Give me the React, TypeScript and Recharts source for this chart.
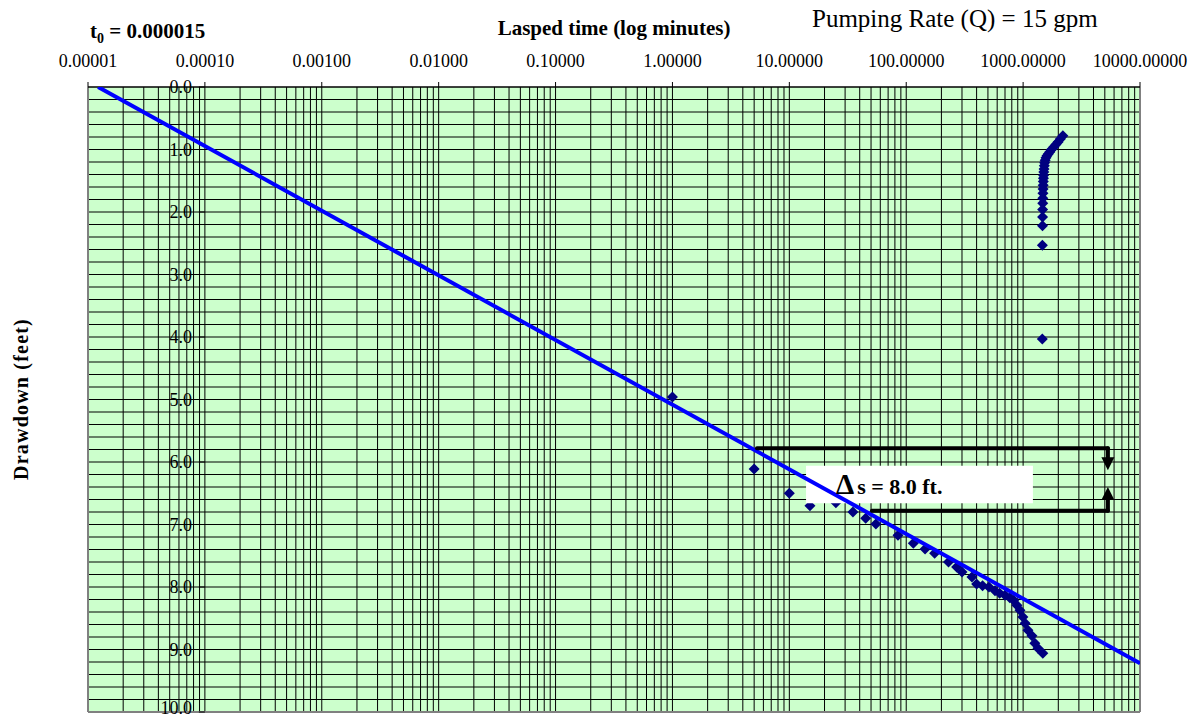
import React from 'react';
import {
  ComposedChart,
  XAxis,
  YAxis,
  Scatter,
  Line,
  ReferenceLine,
  ReferenceArea,
  ReferenceDot,
  CartesianGrid,
} from 'recharts';

// ---------- data ----------
const xTicks = [0.00001, 0.0001, 0.001, 0.01, 0.1, 1, 10, 100, 1000, 10000];
const yTicks = [0, 1, 2, 3, 4, 5, 6, 7, 8, 9, 10];
const yTickLabels = ['0.0', '1.0', '2.0', '3.0', '4.0', '5.0', '6.0', '7.0', '8.0', '9.0', '10.0'];

const drawdownTimes = [1, 5, 10, 15, 25, 35, 45, 55, 85, 115, 145, 175, 230, 270, 300, 365, 400, 450, 510, 575, 630, 700, 770, 830, 885, 940, 995, 1040, 1100, 1190, 1260, 1340, 1475];
const drawdownValues = [4.96, 6.11, 6.5, 6.7, 6.65, 6.8, 6.9, 6.99, 7.17, 7.3, 7.39, 7.46, 7.6, 7.68, 7.76, 7.84, 7.95, 7.98, 8.0, 8.06, 8.1, 8.13, 8.17, 8.21, 8.29, 8.37, 8.48, 8.58, 8.69, 8.78, 8.9, 8.98, 9.06];

const recoveryTimes = [1460, 1462, 1465, 1467, 1469, 1472, 1475, 1478, 1481, 1485, 1489, 1493, 1498, 1503, 1510, 1518, 1528, 1545, 1570, 1600, 1640, 1690, 1750, 1830, 1910, 1990, 2080, 2190];
const recoveryValues = [4.03, 2.53, 2.22, 2.08, 1.96, 1.86, 1.78, 1.7, 1.63, 1.57, 1.51, 1.46, 1.41, 1.36, 1.31, 1.26, 1.21, 1.17, 1.13, 1.1, 1.07, 1.04, 1.0, 0.96, 0.92, 0.88, 0.83, 0.78];

const fitTimes = [0.0000122, 10000];
const fitValues = [0, 9.22];

// annotation (data coordinates)
const upperArrowStart = 5.28;
const lowerArrowStart = 50.9;
const arrowTime = 5314;
const upperLevel = 5.78;
const lowerLevel = 6.78;
const upperTip = 6.13;
const lowerTip = 6.4;
const boxTimes = [13.9, 1213];
const boxLevels = [6.06, 6.66];

// grid definitions
const decades = [-5, -4, -3, -2, -1, 0, 1, 2, 3];
const multipliers = [1, 2, 3, 4, 5, 6, 7, 8, 9];
const vGrid = decades
  .flatMap((d) => multipliers.map((m) => m * Math.pow(10, d)))
  .filter((v) => v > 0.0000100001);
const hGrid = Array.from({ length: 49 }, (_, i) => (i + 1) * 0.2);

const scatterData = [
  ...drawdownTimes.map((t, i) => ({ t, s: drawdownValues[i] })),
  ...recoveryTimes.map((t, i) => ({ t, s: recoveryValues[i] })),
];
const fitData = fitTimes.map((t, i) => ({ t, s: fitValues[i] }));

const SERIF = '"Liberation Serif", "Times New Roman", serif';

const Diamond = (props: any) => {
  const { cx, cy } = props;
  const r = 5.5;
  return (
    <polygon
      points={`${cx},${cy - r} ${cx + r},${cy} ${cx},${cy + r} ${cx - r},${cy}`}
      fill="#000080"
    />
  );
};

const yTickShape = (label: string, lift: number) => (props: any) => {
  const { cx, cy } = props;
  return (
    <g>
      <line x1={cx - 6} y1={cy} x2={cx} y2={cy} stroke="#000" strokeWidth={1} />
      <text
        x={cx - 13}
        y={cy - lift}
        dy="0.35em"
        textAnchor="end"
        fontSize={18}
        fontFamily={SERIF}
        fill="#000"
      >
        {label}
      </text>
    </g>
  );
};

const arrowHead = (dir: 'down' | 'up') => (props: any) => {
  const { cx, cy } = props;
  const h = 13;
  const w = 6.5;
  const by = dir === 'down' ? cy - h : cy + h;
  return <polygon points={`${cx - w},${by} ${cx + w},${by} ${cx},${cy}`} fill="#000" />;
};

export default function App() {
  return (
    <div style={{ position: 'relative', width: 1199, height: 719, background: '#fff' }}>
      <style>{`body{margin:0;}`}</style>
      <ComposedChart
        width={1199}
        height={719}
        margin={{ top: 57, right: 59, bottom: 7, left: 88 }}
      >
        <CartesianGrid fill="#CCFFCC" horizontal={false} vertical={false} stroke="none" />
        <XAxis
          orientation="top"
          type="number"
          scale="log"
          dataKey="t"
          domain={[0.00001, 10000]}
          allowDataOverflow
          ticks={xTicks}
          interval={0}
          tickFormatter={(v: number) => v.toFixed(5)}
          height={30}
          tickSize={5}
          tickMargin={15}
          tick={{ fontSize: 18, fill: '#000', fontFamily: SERIF }}
          axisLine={{ stroke: '#000', strokeWidth: 1.5 }}
          tickLine={{ stroke: '#000', strokeWidth: 1 }}
        />
        <YAxis
          hide
          type="number"
          dataKey="s"
          domain={[0, 10]}
          reversed
          allowDataOverflow
        />
        {vGrid.map((v) => (
          <ReferenceLine key={'v' + v} x={v} stroke="#000" strokeWidth={1} zIndex={-50} />
        ))}
        {hGrid.map((v) => (
          <ReferenceLine key={'h' + v} y={v} stroke="#000" strokeWidth={1} zIndex={-50} />
        ))}
        <ReferenceLine x={0.00001} stroke="#808080" strokeWidth={2} zIndex={-40} />
        <ReferenceLine x={10000} stroke="#808080" strokeWidth={2} zIndex={-40} />
        <ReferenceLine y={10} stroke="#808080" strokeWidth={2} zIndex={-40} />
        {yTicks.map((v, i) => (
          <ReferenceDot
            key={'yt' + v}
            x={0.0001}
            y={v}
            r={0}
            shape={yTickShape(yTickLabels[i], v === 10 ? 4 : 0)}
            zIndex={-30}
          />
        ))}
        <Scatter
          data={scatterData}
          dataKey="s"
          shape={<Diamond />}
          isAnimationActive={false}
          zIndex={600}
        />
        <ReferenceArea
          x1={boxTimes[0]}
          x2={boxTimes[1]}
          y1={boxLevels[0]}
          y2={boxLevels[1]}
          fill="#FFFFFF"
          fillOpacity={1}
          stroke="none"
          zIndex={650}
        />
        <Line
          data={fitData}
          dataKey="s"
          type="linear"
          stroke="#0000FF"
          strokeWidth={4}
          dot={false}
          activeDot={false}
          isAnimationActive={false}
          zIndex={700}
        />
        <ReferenceLine
          segment={[{ x: upperArrowStart, y: upperLevel }, { x: arrowTime, y: upperLevel }]}
          stroke="#000"
          strokeWidth={4}
          strokeLinecap="round"
          zIndex={750}
        />
        <ReferenceLine
          segment={[{ x: arrowTime, y: upperLevel }, { x: arrowTime, y: 5.95 }]}
          stroke="#000"
          strokeWidth={4}
          strokeLinecap="round"
          zIndex={750}
        />
        <ReferenceLine
          segment={[{ x: lowerArrowStart, y: lowerLevel }, { x: arrowTime, y: lowerLevel }]}
          stroke="#000"
          strokeWidth={4}
          strokeLinecap="round"
          zIndex={750}
        />
        <ReferenceLine
          segment={[{ x: arrowTime, y: lowerLevel }, { x: arrowTime, y: 6.58 }]}
          stroke="#000"
          strokeWidth={4}
          strokeLinecap="round"
          zIndex={750}
        />
        <ReferenceDot x={arrowTime} y={upperTip} r={0} shape={arrowHead('down')} zIndex={760} />
        <ReferenceDot x={arrowTime} y={lowerTip} r={0} shape={arrowHead('up')} zIndex={760} />
      </ComposedChart>
      <svg
        width={1199}
        height={719}
        style={{ position: 'absolute', left: 0, top: 0, pointerEvents: 'none' }}
      >
        <text x={90} y={38} fontFamily={SERIF} fontWeight="bold" fontSize={21} fill="#000">
          t<tspan fontSize={14} dy={5}>0</tspan>
          <tspan dy={-5}> = 0.000015</tspan>
        </text>
        <text x={614} y={35} textAnchor="middle" fontFamily={SERIF} fontWeight="bold" fontSize={21} fill="#000">
          Lasped time (log minutes)
        </text>
        <text x={812} y={27} fontFamily={SERIF} fontSize={25} fill="#000">
          Pumping Rate (Q) = 15 gpm
        </text>
        <text
          x={28}
          y={399}
          transform="rotate(-90 28 399)"
          textAnchor="middle"
          fontFamily={SERIF}
          fontWeight="bold"
          fontSize={20}
          letterSpacing={1.2}
          fill="#000"
        >
          Drawdown (feet)
        </text>
        <text x={836} y={494} fontFamily={SERIF} fontWeight="bold" fontSize={22} fill="#000">
          <tspan fontSize={29}>Δ</tspan>
          <tspan dx={3}>s = 8.0 ft.</tspan>
        </text>
      </svg>
    </div>
  );
}
